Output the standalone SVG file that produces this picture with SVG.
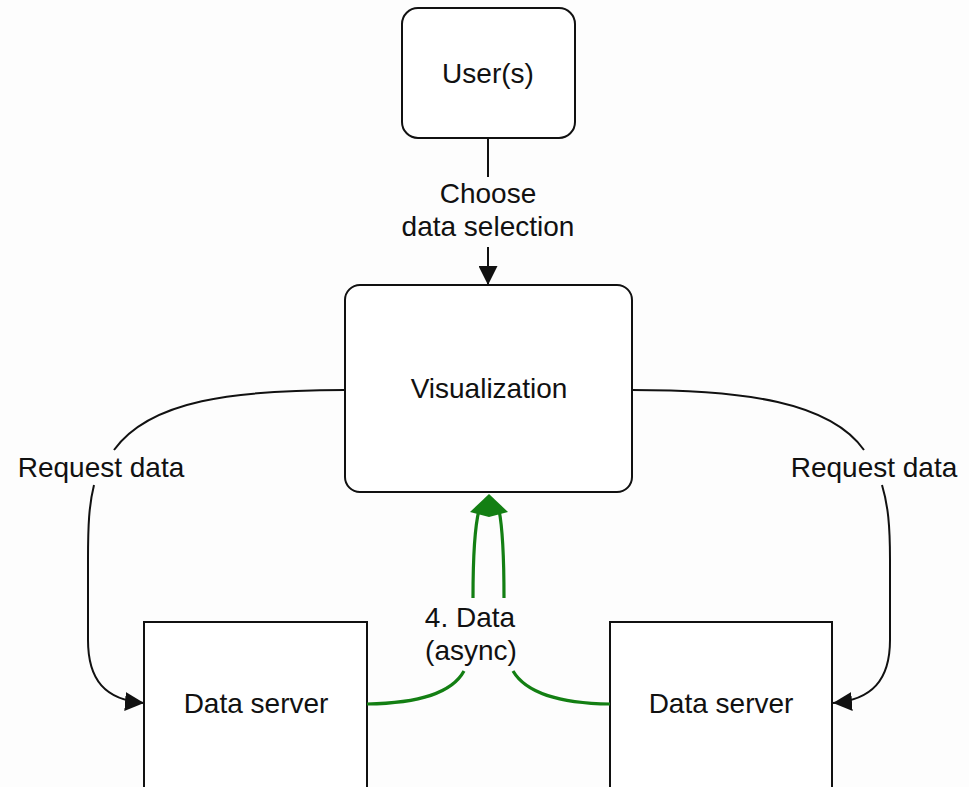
<svg xmlns="http://www.w3.org/2000/svg" width="969" height="787" viewBox="0 0 969 787">
  <style>
    .box { fill: #ffffff; stroke: #111111; stroke-width: 2; }
    .lbl { font-family: "Liberation Sans", Arial, sans-serif; font-size: 28px; fill: #111111; text-anchor: middle; }
    .edge { fill: none; stroke: #111111; stroke-width: 2; }
    .data { fill: none; stroke: #137f13; stroke-width: 3.2; }
  </style>
  <defs>
    <marker id="arrow" markerWidth="19" markerHeight="19" refX="19" refY="9.5" orient="auto" markerUnits="userSpaceOnUse">
      <path d="M0,0 L19,9.5 L0,19 Z" fill="#111111"/>
    </marker>
  </defs>
  <rect width="969" height="787" fill="#fdfdfd"/>

  <g id="user">
    <rect class="box" x="402" y="8" width="173" height="130" rx="16"/>
    <text class="lbl" x="488" y="83">User(s)</text>
  </g>

  <g id="visualization">
    <rect class="box" x="345" y="285" width="287" height="207" rx="15"/>
    <text class="lbl" x="489" y="398">Visualization</text>
  </g>

  <g id="server-left">
    <rect class="box" x="144" y="622" width="223" height="200"/>
    <text class="lbl" x="256" y="713">Data server</text>
  </g>

  <g id="server-right">
    <rect class="box" x="610" y="622" width="222" height="200"/>
    <text class="lbl" x="721" y="713">Data server</text>
  </g>

  <g id="connectors">
    <!-- user -> visualization -->
    <line class="edge" x1="488" y1="138" x2="488" y2="177"/>
    <line class="edge" x1="488" y1="247" x2="488" y2="285" marker-end="url(#arrow)"/>
    <text class="lbl" x="488" y="203">Choose</text>
    <text class="lbl" x="488" y="236">data selection</text>

    <!-- visualization -> left server -->
    <path class="edge" d="M345,390 C235,390 150,400 114,450"/>
    <path class="edge" d="M94,485 C89,505 88,525 88,560 L88,640 C88,680 105,700 144,703" marker-end="url(#arrow)"/>
    <text class="lbl" x="101" y="477">Request data</text>

    <!-- visualization -> right server -->
    <path class="edge" d="M632,390 C745,390 830,402 864,450"/>
    <path class="edge" d="M882,485 C888,505 890,525 890,560 L890,640 C890,680 872,700 833,703" marker-end="url(#arrow)"/>
    <text class="lbl" x="874" y="477">Request data</text>

    <!-- servers -> visualization (async data) -->
    <path class="data" d="M367,704 C420,703 452,693 464,671"/>
    <path class="data" d="M513,671 C526,693 558,703 610,704"/>
    <path class="data" d="M473,598 C473,560 474,530 479,510"/>
    <path class="data" d="M504,598 C504,560 503,530 499,510"/>
    <path d="M489,494 L508,512 L489,517 L470,512 Z" fill="#137f13"/>
    <text class="lbl" x="470" y="627">4. Data</text>
    <text class="lbl" x="471" y="660">(async)</text>
  </g>
</svg>
